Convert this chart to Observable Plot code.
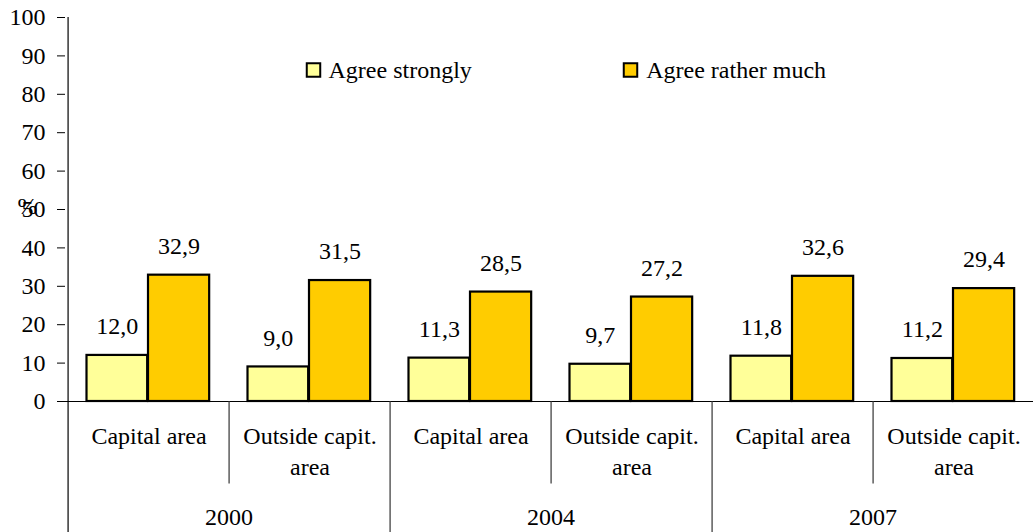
<!DOCTYPE html>
<html>
<head>
<meta charset="utf-8">
<script src="https://cdn.jsdelivr.net/npm/d3@7"></script>
<script src="https://cdn.jsdelivr.net/npm/@observablehq/plot@0.6"></script>
<style>
  html, body { margin: 0; padding: 0; background: #fff; overflow: hidden; }
  #chart { width: 1033px; height: 532px; overflow: hidden; }
  #chart svg { max-width: none !important; }
</style>
</head>
<body>
<div id="chart"></div>
<script>
// ---- data ----
const years = ["2000", "2004", "2007"];
const areas = ["Capital area", "Outside capit.\narea"];
const seriesNames = ["Agree strongly", "Agree rather much"];
const agreeStrongly = [12.0, 9.0, 11.3, 9.7, 11.8, 11.2];
const agreeRatherMuch = [32.9, 31.5, 28.5, 27.2, 32.6, 29.4];
const yTicks = [0, 10, 20, 30, 40, 50, 60, 70, 80, 90, 100];

// ---- table built from the arrays ----
const rows = [];
years.forEach((yr, i) => areas.forEach((ar, j) => {
  const k = i * areas.length + j;
  rows.push({cat: yr + "|" + ar, year: yr, area: ar, strongly: agreeStrongly[k], much: agreeRatherMuch[k], idx: k});
}));
const cats = rows.map(d => d.cat);
const fmt = v => v.toFixed(1).replace(".", ",");

// ---- layout ----
const W = 1038, H = 532, ML = 65, MR = 2, MT = 17, MB = 131;
const bw = (W - ML - MR) / cats.length;
const plotH = H - MT - MB;
const FS = 24;
const FF = "Liberation Serif";
const lightCol = "#FFFF99", darkCol = "#FFCC00";
const T = {fontSize: FS, fontFamily: FF};

const chart = Plot.plot({
  width: W, height: H,
  marginLeft: ML, marginRight: MR, marginTop: MT, marginBottom: MB,
  style: {fontFamily: FF, fontSize: FS + "px"},
  x: {type: "band", domain: cats, padding: 0, axis: null},
  y: {domain: [0, 100], axis: null, label: null},
  marks: [
    // bars
    Plot.barY(rows, {x: "cat", y: "strongly", fill: lightCol, stroke: "#000", strokeWidth: 2.2, insetLeft: 18.5, insetRight: bw - 80}),
    Plot.barY(rows, {x: "cat", y: "much", fill: darkCol, stroke: "#000", strokeWidth: 2.2, insetLeft: 80, insetRight: bw - 142}),
    // value labels
    Plot.text(rows, {x: "cat", y: "strongly", text: d => fmt(d.strongly), dx: 49.25 - bw / 2, dy: -29, lineAnchor: "middle", ...T}),
    Plot.text(rows, {x: "cat", y: "much", text: d => fmt(d.much), dx: 111 - bw / 2, dy: -29, lineAnchor: "middle", ...T}),
    // y axis
    Plot.axisY(yTicks, {tickSize: 8, tickPadding: 12, label: null, ...T}),
    Plot.ruleX([cats[0]], {x: d => d, dx: -bw / 2, insetBottom: -MB, stroke: "#000", strokeWidth: 1.2}),
    Plot.ruleY([0], {insetLeft: -8, stroke: "#000", strokeWidth: 1.2}),
    Plot.text(["%"], {frameAnchor: "left", dx: -48, dy: -3, ...T}),
    // category separators
    Plot.ruleX(rows.filter(d => d.idx % 2 === 1), {x: "cat", dx: -bw / 2, insetTop: plotH, insetBottom: -82.5, stroke: "#333", strokeWidth: 1.2}),
    Plot.ruleX(rows.filter(d => d.idx > 0 && d.idx % 2 === 0), {x: "cat", dx: -bw / 2, insetTop: plotH, insetBottom: -MB, stroke: "#333", strokeWidth: 1.2}),
    // category labels
    Plot.text(rows, {x: "cat", text: "area", frameAnchor: "bottom", dy: 21.5, lineAnchor: "top", lineHeight: 1.26, ...T}),
    Plot.text(rows.filter(d => d.idx % 2 === 1), {x: "cat", text: "year", frameAnchor: "bottom", dx: -bw / 2, dy: 106, lineAnchor: "top", ...T}),
    // legend
    Plot.dot([seriesNames[0]], {frameAnchor: "top-left", dx: 248, dy: 52.5, symbol: "square", r: 7.6, fill: lightCol, stroke: "#000", strokeWidth: 2}),
    Plot.text([seriesNames[0]], {frameAnchor: "top-left", dx: 263, dy: 52.5, textAnchor: "start", lineAnchor: "middle", ...T}),
    Plot.dot([seriesNames[1]], {frameAnchor: "top-left", dx: 565, dy: 52.5, symbol: "square", r: 7.6, fill: darkCol, stroke: "#000", strokeWidth: 2}),
    Plot.text([seriesNames[1]], {frameAnchor: "top-left", dx: 580.7, dy: 52.5, textAnchor: "start", lineAnchor: "middle", ...T})
  ]
});
document.getElementById("chart").append(chart);
</script>
</body>
</html>
